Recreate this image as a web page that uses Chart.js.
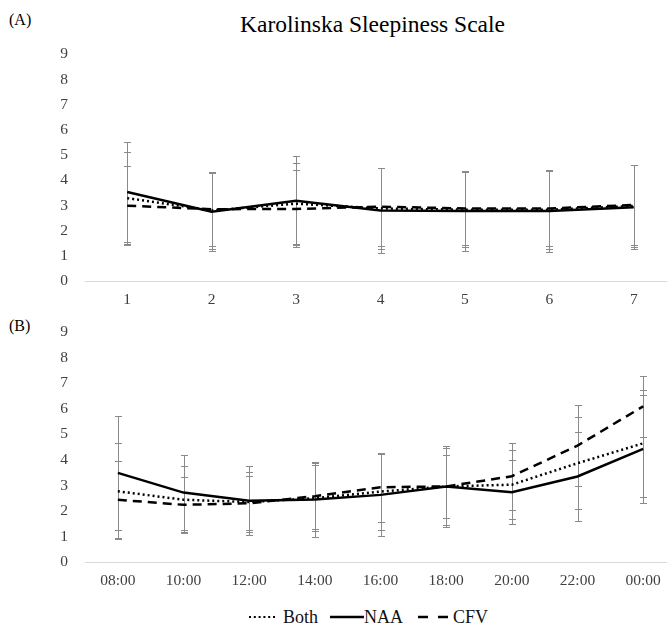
<!DOCTYPE html>
<html>
<head>
<meta charset="utf-8">
<script src="https://cdn.jsdelivr.net/npm/chart.js@4.4.1/dist/chart.umd.min.js"></script>
<style>
  body { margin: 0; width: 667px; height: 625px; overflow: hidden; background: #fff; position: relative;
         font-family: "Liberation Serif", "Times New Roman", serif; color: #000; }
  canvas { position: absolute; left: 0; }
  .panel { position: absolute; left: 9px; font-size: 16px; line-height: 16px; }
  #title { position: absolute; top: 12px; left: 0; width: 745px; text-align: center; font-size: 23.5px; line-height: 24px; }
  #legend { position: absolute; top: 607px; left: 248px; height: 20px; display: flex;
            align-items: center; font-size: 18px; line-height: 20px; color: #111; white-space: nowrap; }
  #legend svg { display: block; }
</style>
</head>
<body>
<div id="title">Karolinska Sleepiness Scale</div>
<div class="panel" style="top:12px">(A)</div>
<div class="panel" style="top:318px">(B)</div>
<canvas id="chartA" width="680" height="283" style="top:28px"></canvas>
<canvas id="chartB" width="680" height="286" style="top:306px"></canvas>
<div id="legend">
  <svg width="28" height="6" style="margin-right:7px"><line x1="1" y1="3" x2="28" y2="3" stroke="#000" stroke-width="2" stroke-dasharray="2 2.8"/></svg>
  <span style="margin-right:12px">Both</span>
  <svg width="34" height="6"><line x1="0" y1="3" x2="34" y2="3" stroke="#000" stroke-width="2.6"/></svg>
  <span style="margin-right:15px">NAA</span>
  <svg width="30" height="6" style="margin-right:5px"><line x1="0" y1="3" x2="30" y2="3" stroke="#000" stroke-width="2.6" stroke-dasharray="10 10"/></svg>
  <span>CFV</span>
</div>
<script>
// panel A: sessions 1-7
const sessions = ["1", "2", "3", "4", "5", "6", "7"];
const bothA = [3.29, 2.80, 3.07, 2.88, 2.83, 2.83, 2.98];
const naaA = [3.53, 2.75, 3.19, 2.80, 2.78, 2.78, 2.93];
const cfvA = [2.99, 2.85, 2.86, 2.95, 2.88, 2.88, 3.02];
const bothErrA = [1.82, 1.52, 1.62, 1.62, 1.50, 1.55, 1.63];
const naaErrA = [2.00, 1.55, 1.76, 1.68, 1.60, 1.63, 1.66];
const cfvErrA = [1.58, 1.45, 1.53, 1.55, 1.45, 1.50, 1.58];

// panel B: time of day
const hours = ["08:00", "10:00", "12:00", "14:00", "16:00", "18:00", "20:00", "22:00", "00:00"];
const bothB = [2.77, 2.44, 2.35, 2.50, 2.76, 2.96, 3.03, 3.87, 4.65];
const naaB = [3.49, 2.72, 2.40, 2.45, 2.63, 2.96, 2.73, 3.35, 4.43];
const cfvB = [2.44, 2.24, 2.30, 2.58, 2.93, 2.96, 3.36, 4.56, 6.10];
const bothErrB = [1.88, 1.31, 1.19, 1.30, 1.50, 1.50, 1.36, 1.81, 2.10];
const naaErrB = [2.23, 1.48, 1.35, 1.46, 1.60, 1.60, 1.25, 1.73, 2.11];
const cfvErrB = [1.51, 1.08, 1.06, 1.30, 1.35, 1.25, 1.32, 1.60, 1.20];

const yTicks = [0, 1, 2, 3, 4, 5, 6, 7, 8, 9];

const errorBars = {
  id: "errorBars",
  beforeDatasetsDraw(chart) {
    const { ctx } = chart;
    const x = chart.scales.x;
    const y = chart.scales.y;
    ctx.save();
    ctx.strokeStyle = "#8a8a8a";
    ctx.lineWidth = 1;
    ctx.setLineDash([]);
    chart.data.datasets.forEach((ds) => {
      ds.errors.forEach((e, i) => {
        const px = Math.round(x.getPixelForValue(i)) + 0.5;
        const top = Math.round(y.getPixelForValue(ds.data[i] + e)) + 0.5;
        const bot = Math.round(y.getPixelForValue(ds.data[i] - e)) + 0.5;
        ctx.beginPath();
        ctx.moveTo(px, top);
        ctx.lineTo(px, bot);
        ctx.moveTo(px - 3.5, top);
        ctx.lineTo(px + 3.5, top);
        ctx.moveTo(px - 3.5, bot);
        ctx.lineTo(px + 3.5, bot);
        ctx.stroke();
      });
    });
    ctx.restore();
  },
};

function makeChart(id, labels, both, naa, cfv, bothErr, naaErr, cfvErr) {
  const font = { family: "'Liberation Serif', 'Times New Roman', serif", size: 15.5 };
  return new Chart(id, {
    type: "line",
    plugins: [errorBars],
    data: {
      labels: labels,
      datasets: [
        { label: "Both", data: both, errors: bothErr, borderColor: "#000", borderWidth: 2.5,
          borderDash: [2, 3], pointRadius: 0, tension: 0 },
        { label: "NAA", data: naa, errors: naaErr, borderColor: "#000", borderWidth: 2.5,
          pointRadius: 0, tension: 0 },
        { label: "CFV", data: cfv, errors: cfvErr, borderColor: "#000", borderWidth: 2.5,
          borderDash: [9, 6], pointRadius: 0, tension: 0 },
      ],
    },
    options: {
      responsive: false,
      animation: false,
      devicePixelRatio: 1,
      layout: { padding: { top: 0, right: 4, left: 0, bottom: 0 } },
      scales: {
        x: {
          offset: true,
          grid: { display: false, drawTicks: false },
          border: { display: true, color: "#d9d9d9", width: 1 },
          ticks: { color: "#404040", font: font, padding: 10, maxRotation: 0 },
          afterFit: (scale) => { scale.height = 30; },
        },
        y: {
          min: 0,
          max: 9,
          afterBuildTicks: (scale) => { scale.ticks = yTicks.map((v) => ({ value: v })); },
          grid: { display: false, drawTicks: false },
          border: { display: false },
          ticks: { color: "#404040", font: font, padding: 17 },
          afterFit: (scale) => { scale.width = 85; },
        },
      },
      plugins: {
        legend: { display: false },
        tooltip: { enabled: false },
      },
    },
  });
}

makeChart("chartA", sessions, bothA, naaA, cfvA, bothErrA, naaErrA, cfvErrA);
makeChart("chartB", hours, bothB, naaB, cfvB, bothErrB, naaErrB, cfvErrB);
</script>
</body>
</html>
